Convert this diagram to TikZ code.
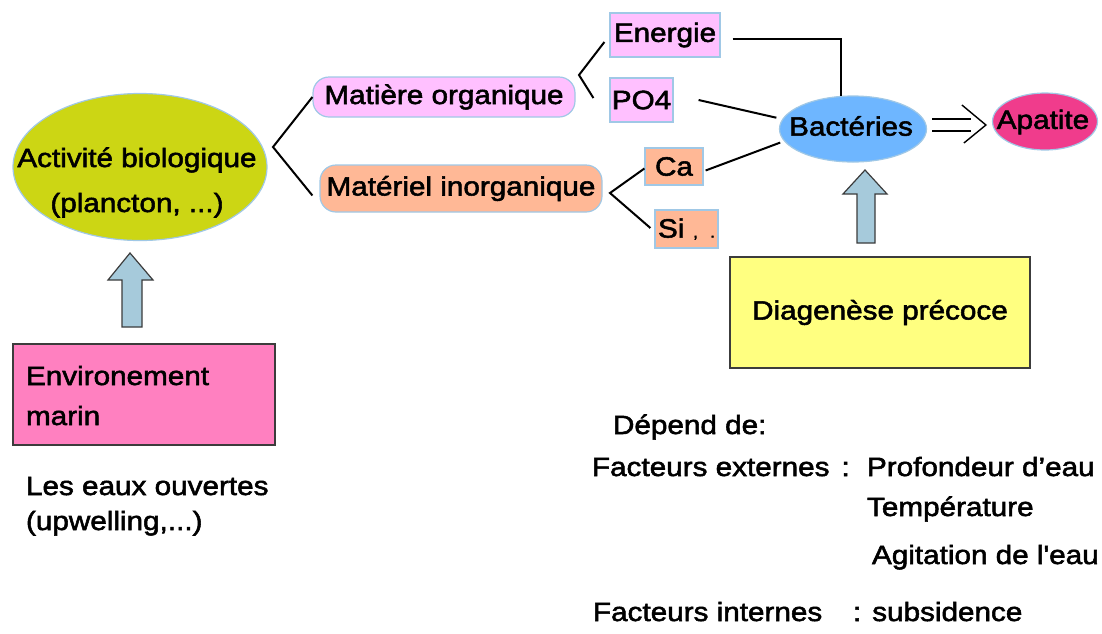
\documentclass[tikz,border=0pt]{standalone}
\usepackage{fontspec}
\newfontfamily\af{Liberation Sans}[FakeStretch=1.12,FakeBold=2]
\usetikzlibrary{shapes.geometric,calc}
\definecolor{biocol}{RGB}{204,214,20}
\definecolor{arrcol}{RGB}{166,202,219}
\definecolor{envcol}{RGB}{255,128,192}
\definecolor{orgcol}{RGB}{255,192,255}
\definecolor{salcol}{RGB}{255,184,150}
\definecolor{bactcol}{RGB}{110,182,255}
\definecolor{apacol}{RGB}{240,60,140}
\definecolor{diagcol}{RGB}{255,255,128}
\definecolor{lineblue}{RGB}{160,200,230}
\definecolor{edgegray}{RGB}{60,60,60}
\newcommand\mainfs{\af\fontsize{13.25pt}{16pt}\selectfont}
\begin{document}
\begin{tikzpicture}[x=0.5pt,y=-0.5pt,font=\mainfs,line width=1pt,
  txt/.style={inner sep=0pt},
  lightbox/.style={rectangle,draw=lineblue,line width=0.6pt,inner sep=0pt},
  darkbox/.style={rectangle,draw=edgegray,line width=0.6pt,inner sep=0pt},
  oval/.style={ellipse,draw=lineblue,line width=0.6pt,inner sep=0pt},
  blockarrow/.style={fill=arrcol,draw=edgegray,line width=0.6pt,line join=miter},
  link/.style={line width=1pt,draw=black}]
\path[use as bounding box,fill=white] (0,0) rectangle (1102,633);

% left part
\node[oval,fill=biocol,minimum width=127pt,minimum height=73.5pt] (bio) at (140,167) {};
\node[txt,anchor=base] (bio1) at (137,167) {Activité biologique};
\node[txt,anchor=base] (bio2) at (137,212) {(plancton, ...)};

\draw[blockarrow] (130,253) -- (153,280) -- (142,280) -- (142,327) -- (122,327) -- (122,280) -- (108,280) -- cycle;

\node[darkbox,fill=envcol,minimum width=131pt,minimum height=50.5pt] (env) at (144,394.5) {};
\node[txt,anchor=base west] (env1) at (25,385) {Environement};
\node[txt,anchor=base west] (env2) at (25,425) {marin};
\node[txt,anchor=base west] (eaux1) at (25,495) {Les eaux ouvertes};
\node[txt,anchor=base west] (eaux2) at (25,530) {(upwelling,...)};

% middle
\node[lightbox,fill=orgcol,rounded corners=8pt,minimum width=131pt,minimum height=20pt] (matorg) at (444,97) {Matière organique};
\node[lightbox,fill=salcol,rounded corners=8pt,minimum width=141pt,minimum height=23.5pt] (matinorg) at (461,188.5) {Matériel inorganique};

\node[lightbox,fill=orgcol,minimum width=55pt,minimum height=22pt] (energie) at (665,35) {Energie};
\node[lightbox,fill=orgcol,minimum width=31.5pt,minimum height=22pt] (po4) at (641.5,100) {PO4};
\node[lightbox,fill=salcol,minimum width=29pt,minimum height=18.5pt] (ca) at (674,166.5) {Ca};
\node[lightbox,fill=salcol,minimum height=19pt,text width=28.5pt,inner xsep=1.5pt,align=left] (si) at (686.5,229) {Si\hfill{\fontsize{8pt}{8pt}\selectfont,\hspace{6pt}.}};

\node[oval,fill=bactcol,minimum width=73.5pt,minimum height=33pt] (bact) at (853,129) {};
\node[txt] (bactt) at (851,126) {Bactéries};
\node[oval,fill=apacol,minimum width=52.5pt,minimum height=28.5pt] (apatite) at (1045,121.5) {};
\node[txt] (apatitet) at (1043,122) {Apatite};

\draw[blockarrow] (865,170) -- (887,194) -- (875,194) -- (875,243) -- (857,243) -- (857,194) -- (843,194) -- cycle;
\node[darkbox,fill=diagcol,minimum width=150pt,minimum height=55.5pt] (diag) at (880,312.5) {Diagenèse précoce};

% connectors
\coordinate (j1) at (273,147);
\draw[link] (matorg.west) -- (j1) -- ($(matinorg.west)+(-7,7)$);
\coordinate (j2) at (579,75);
\draw[link] ($(energie.west)+(-5,7)$) -- (j2) -- ($(po4.west)+(-16,-2)$);
\coordinate (j3) at (610,193);
\draw[link] ($(ca.west)+(0,2)$) -- (j3) -- ($(si.west)+(-4,-1)$);
\draw[link] ($(energie.east)+(12,4)$) -| (bact.110);
\draw[link,shorten >=3pt] ($(po4.east)+(25,0)$) -- (bact.172);
\draw[link,shorten >=2pt] ($(ca.east)+(2,4)$) -- (bact.190);

\coordinate (dA) at ($(bact.east)+(5,-4)$);
\coordinate (dB) at ($(apatite.west)+(-6,3.5)$);
\draw[double,double distance=5pt,line width=1pt] (dA) -- ($(dB)+(-15,0)$);
\draw[line width=0.7pt] ($(dB)+(-24,-20)$) -- (dB) -- ($(dB)+(-22,18)$);

% bottom right text
\node[txt,anchor=base west] (dep) at (612,434) {Dépend de:};
\node[txt,anchor=base west] (fext) at (591,476) {Facteurs externes\hspace{6pt}:};
\node[txt,anchor=base west] (prof) at (866,476) {Profondeur d’eau};
\node[txt,anchor=base west] (temp) at (866,516) {Température};
\node[txt,anchor=base west] (agit) at (871,564) {Agitation de l'eau};
\node[txt,anchor=base west] (fint) at (592,621) {Facteurs internes};
\node[txt,anchor=base west] (sub) at (852,621) {: subsidence};
\end{tikzpicture}
\end{document}
